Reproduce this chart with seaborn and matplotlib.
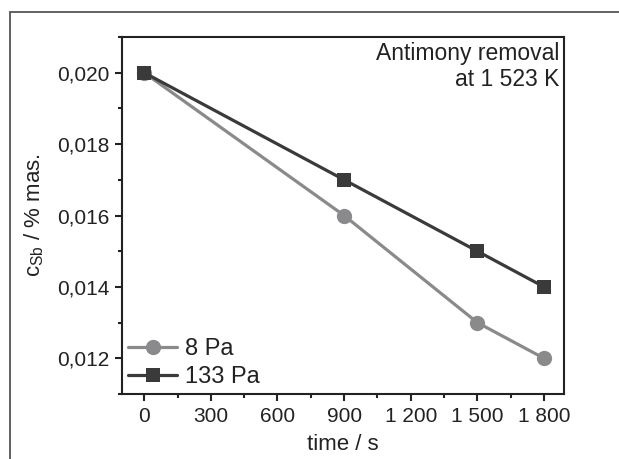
import matplotlib
matplotlib.use("Agg")
import matplotlib.pyplot as plt
import seaborn as sns
import pandas as pd
from matplotlib.patches import Rectangle
from matplotlib.ticker import FuncFormatter, MultipleLocator

time_s = [0, 900, 1500, 1800]
c_8pa = [0.020, 0.016, 0.013, 0.012]
c_133pa = [0.020, 0.017, 0.015, 0.014]
series_names = ["8 Pa", "133 Pa"]
x_ticks = [0, 300, 600, 900, 1200, 1500, 1800]
y_ticks = [0.012, 0.014, 0.016, 0.018, 0.020]

sns.set_theme(style="ticks")
plt.rcParams["font.family"] = ["Liberation Sans", "DejaVu Sans"]
plt.rcParams["mathtext.fontset"] = "custom"
plt.rcParams["mathtext.rm"] = "Liberation Sans"
plt.rcParams["mathtext.it"] = "Liberation Sans"

fig = plt.figure(figsize=(6.19, 4.59), dpi=100)
ax = fig.add_axes([122/619, 1-394/459, (564-122)/619, (394-37)/459])

# outer frame
fig.patches.append(Rectangle((10/619, -0.1), 1.2, 1 - 12/459 + 0.1, transform=fig.transFigure,
                             fill=False, edgecolor="#555555", linewidth=1.3))

df = pd.DataFrame({
    "time": time_s + time_s,
    "c": c_8pa + c_133pa,
    "series": [series_names[0]] * len(time_s) + [series_names[1]] * len(time_s),
})

colors = {"8 Pa": "#8a8a8c", "133 Pa": "#3a3a3a"}
markers = {"8 Pa": "o", "133 Pa": "s"}
for name in series_names:
    sub = df[df["series"] == name]
    sns.lineplot(data=sub, x="time", y="c", ax=ax, color=colors[name], marker=markers[name],
                 markersize=11 if name == "8 Pa" else 9.5, markeredgewidth=0, linewidth=2.3,
                 label=name)

ax.set_xlim(-100, 1890)
ax.set_ylim(0.011, 0.021)
ax.set_xticks(x_ticks)
ax.set_yticks(y_ticks)
ax.xaxis.set_minor_locator(MultipleLocator(150))
ax.yaxis.set_minor_locator(MultipleLocator(0.001))
ax.xaxis.set_major_formatter(FuncFormatter(lambda v, p: f"{int(round(v)):,}".replace(",", " ")))
ax.yaxis.set_major_formatter(FuncFormatter(lambda v, p: f"{v:.3f}".replace(".", ",")))

for s in ax.spines.values():
    s.set_linewidth(1.5)
    s.set_color("#222222")
    s.set_visible(True)
ax.tick_params(axis="both", which="major", direction="out", length=5, width=1.5,
               labelsize=15, colors="#222222", pad=4)
ax.tick_params(axis="both", which="minor", direction="out", length=3, width=1.5, colors="#222222")
ax.tick_params(axis="x", top=False)
ax.tick_params(axis="y", right=False)

ax.set_xlabel("time / s", fontsize=16, color="#222222", labelpad=6)
ax.set_ylabel(r"c$_{\mathrm{Sb}}$ / % mas.", fontsize=16, color="#222222", labelpad=8)

ax.text(0.99, 0.985, "Antimony removal\nat 1 523 K", transform=ax.transAxes,
        ha="right", va="top", fontsize=16.5, color="#222222", linespacing=1.15)

leg = ax.legend(loc="lower left", frameon=False, fontsize=17, handlelength=2.1,
                handletextpad=0.3, borderaxespad=0.0, labelspacing=0.25, borderpad=0.25)
for t in leg.get_texts():
    t.set_color("#222222")

fig.savefig("out.png", dpi=100)
